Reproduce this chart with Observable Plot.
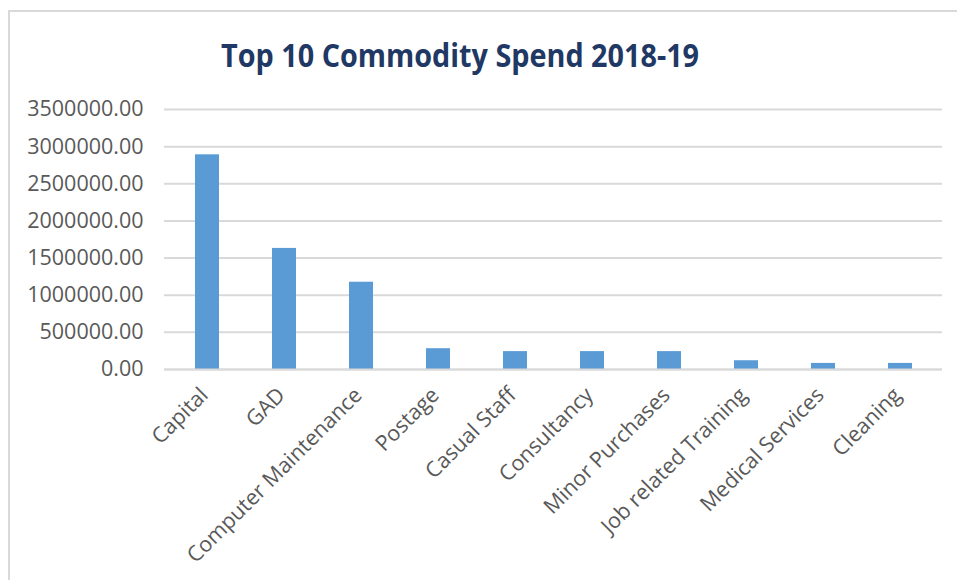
<!DOCTYPE html>
<html>
<head>
<meta charset="utf-8">
<script src="https://cdn.jsdelivr.net/npm/d3@7"></script>
<script src="https://cdn.jsdelivr.net/npm/@observablehq/plot@0.6"></script>
<style>
  html, body { margin: 0; padding: 0; background: #fff; }
  #wrap { position: relative; width: 957px; height: 580px; overflow: hidden; font-family: 'Open Sans', sans-serif; }
  #frame { position: absolute; left: 8px; top: 10px; width: 1000px; height: 1000px; border-left: 2px solid #d9d9d9; border-top: 2px solid #d9d9d9; }
  #title { position: absolute; left: 0; top: 38px; width: 920px; text-align: center; line-height: 1; }
  #title span { display: inline-block; font-size: 33px; font-weight: 700; color: #1f3864; white-space: nowrap; transform-origin: center; }
  #chart { position: absolute; left: 0; top: 90px; }
</style>
</head>
<body>
<div id="wrap">
  <div id="frame"></div>
  <div id="title"><span>Top 10 Commodity Spend 2018-19</span></div>
  <div id="chart"></div>
</div>
<script>
const categories = ["Capital", "GAD", "Computer Maintenance", "Postage", "Casual Staff", "Consultancy", "Minor Purchases", "Job related Training", "Medical Services", "Cleaning"];
const spend = [2890000, 1630000, 1175000, 280000, 241000, 241000, 241000, 118000, 82000, 82000];
const yTicks = [0, 500000, 1000000, 1500000, 2000000, 2500000, 3000000, 3500000];

const data = categories.map((c, i) => ({category: c, value: spend[i]}));

const chart = Plot.plot({
  width: 957,
  height: 490,
  marginTop: 19,
  marginBottom: 211,
  marginLeft: 164,
  marginRight: 15,
  style: {fontFamily: "'Open Sans', sans-serif", background: "transparent", overflow: "visible"},
  x: {domain: categories, paddingInner: 0.69, paddingOuter: 0.345, axis: null},
  y: {domain: [0, 3500000], axis: null},
  marks: [
    Plot.gridY(yTicks, {stroke: "#d9d9d9", strokeOpacity: 1, strokeWidth: 2}),
    Plot.axisY(yTicks, {tickSize: 0, tickPadding: 21, tickFormat: d3.format(".2f"), fontSize: 21.5, fill: "#595959", label: null}),
    Plot.barY(data, {x: "category", y: "value", fill: "#5b9bd5"}),
    Plot.ruleY([0], {stroke: "#d9d9d9", strokeWidth: 2}),
    Plot.text(categories, {x: d => d, frameAnchor: "bottom", rotate: -45, textAnchor: "end", lineAnchor: "middle", dy: 22, dx: -3, fontSize: 21.5, fill: "#595959"})
  ]
});
document.getElementById("chart").appendChild(chart);

const span = document.querySelector("#title span");
const w = span.getBoundingClientRect().width;
span.style.transform = `scaleX(${478 / w})`;
</script>
</body>
</html>
